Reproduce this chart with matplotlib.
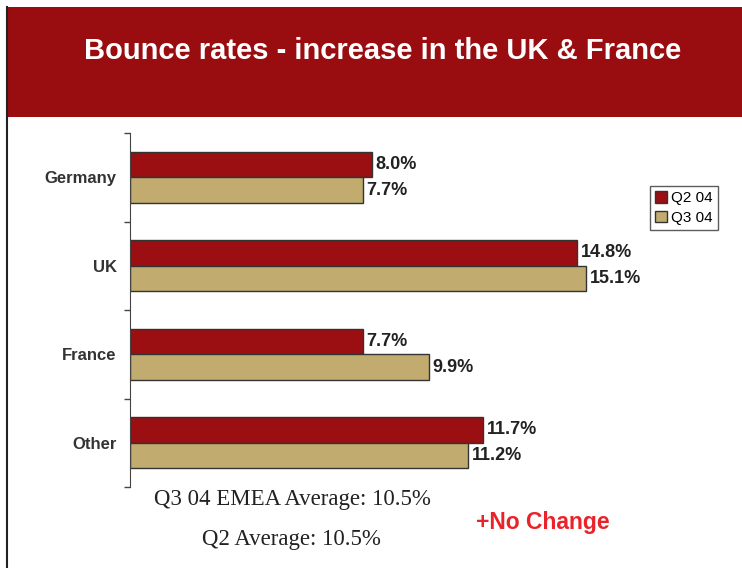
import matplotlib.pyplot as plt
from matplotlib.patches import Rectangle
from matplotlib.lines import Line2D

countries = ["Germany", "UK", "France", "Other"]
q2_04 = [8.0, 14.8, 7.7, 11.7]
q3_04 = [7.7, 15.1, 9.9, 11.2]
series_names = ["Q2 04", "Q3 04"]

title = "Bounce rates - increase in the UK & France"
note1 = "Q3 04 EMEA Average: 10.5%"
note2 = "Q2 Average: 10.5%"
note3 = "+No Change"

red = "#9b0e12"
tan = "#c2ab6e"
edge = "#333333"

fig = plt.figure(figsize=(7.42, 5.68), dpi=100)

# banner + left border line
fig.patches.append(Rectangle((8/742, 1-117/568), 1-8/742, 110/568,
                             transform=fig.transFigure, facecolor="#990d10",
                             edgecolor="none", zorder=0))
fig.lines.append(Line2D([7.5/742, 7.5/742], [0, 1-7/568], transform=fig.transFigure,
                        color="#222222", linewidth=1.5))
fig.text(383/742, 1-51/568, title, color="white", fontsize=21, fontweight="bold",
         family=["Liberation Sans Narrow", "Liberation Sans"], ha="center", va="center")

ax = fig.add_axes([130/742, 1-487/568, 570/742, 354/568])
pos = range(len(countries))
h = 0.29
b1 = ax.barh([p - h/2 for p in pos], q2_04, height=h, color=red, edgecolor=edge,
             linewidth=1, label=series_names[0])
b2 = ax.barh([p + h/2 for p in pos], q3_04, height=h, color=tan, edgecolor=edge,
             linewidth=1, label=series_names[1])
for bars, vals in [(b1, q2_04), (b2, q3_04)]:
    for bar, v in zip(bars, vals):
        ax.text(v + 0.12, bar.get_y() + bar.get_height()/2, f"{v:.1f}%",
                va="center", ha="left", fontsize=13, fontweight="bold",
                family="Liberation Sans", color="#222222")

ax.set_xlim(0, 570/30.2)
ax.set_ylim(3.5, -0.5)
ax.set_yticks([-0.5, 0.5, 1.5, 2.5, 3.5])
ax.set_yticklabels([])
ax.set_yticks(list(pos), minor=True)
ax.set_yticklabels(countries, minor=True, fontsize=12, fontweight="bold",
                   family="Liberation Sans", color="#333333")
ax.tick_params(axis="y", which="major", length=4, width=1, color="#444444")
ax.tick_params(axis="y", which="minor", length=0, pad=9.5)
ax.set_xticks([])
for s in ["top", "right", "bottom"]:
    ax.spines[s].set_visible(False)
ax.spines["left"].set_color("#444444")

leg = ax.legend(loc="upper left", bbox_to_anchor=(650/742, 1-186/568),
                bbox_transform=fig.transFigure, frameon=True, fancybox=False,
                prop={"family": "Liberation Sans", "size": 11}, handlelength=0.75,
                handleheight=0.75, handletextpad=0.3, borderpad=0.35, labelspacing=0.35,
                borderaxespad=0)
leg.get_frame().set_edgecolor("#333333")
leg.get_frame().set_linewidth(1)

fig.text(292/742, 1-500/568, note1, fontsize=16.5, family="Liberation Serif",
         color="#222222", ha="center", va="center")
fig.text(291/742, 1-539/568, note2, fontsize=16.5, family="Liberation Serif",
         color="#222222", ha="center", va="center")
fig.text(543/742, 1-523/568, note3, fontsize=16.5, fontweight="bold",
         family="Liberation Sans", color="#e8232a", ha="center", va="center")

fig.savefig("out.png", dpi=100)
